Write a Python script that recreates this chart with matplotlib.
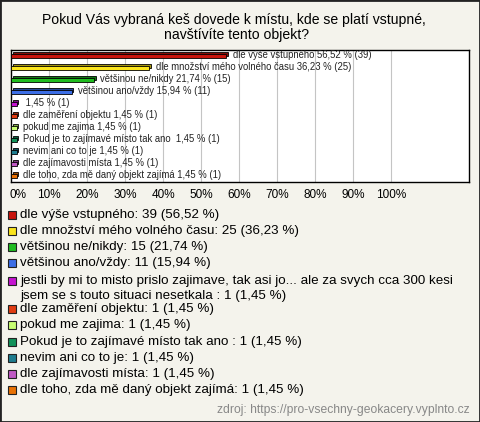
import numpy as np
import matplotlib.pyplot as plt
from matplotlib.patches import Rectangle
from matplotlib.colors import to_rgb

plt.rcParams['font.family'] = ['Liberation Sans', 'DejaVu Sans']

# answers, counts, percentages
bar_labels = ['dle výše vstupného', 'dle množství mého volného času', 'většinou ne/nikdy',
              'většinou ano/vždy', '', 'dle zaměření objektu', 'pokud me zajima',
              'Pokud je to zajímavé místo tak ano ', 'nevim ani co to je',
              'dle zajímavosti místa', 'dle toho, zda mě daný objekt zajímá']
legend_labels = ['dle výše vstupného', 'dle množství mého volného času', 'většinou ne/nikdy',
                 'většinou ano/vždy',
                 'jestli by mi to misto prislo zajimave, tak asi jo... ale za svych cca 300 kesi\njsem se s touto situaci nesetkala ',
                 'dle zaměření objektu', 'pokud me zajima', 'Pokud je to zajímavé místo tak ano ',
                 'nevim ani co to je', 'dle zajímavosti místa', 'dle toho, zda mě daný objekt zajímá']
counts = [39, 25, 15, 11, 1, 1, 1, 1, 1, 1, 1]
percents = [56.52, 36.23, 21.74, 15.94, 1.45, 1.45, 1.45, 1.45, 1.45, 1.45, 1.45]
colors = ['#c8140c', '#fae41c', '#20bc20', '#3c6ee6', '#c414d0', '#e03c12', '#c8ff72',
          '#12925a', '#1e7c8e', '#c05ac4', '#e87206']
ticks = [0, 10, 20, 30, 40, 50, 60, 70, 80, 90, 100]

W, H = 480, 422
bg = '#f4f3ec'
fig = plt.figure(figsize=(4.8, 4.22), dpi=100, facecolor=bg)
fig.patches.append(Rectangle((0, 0), 1, 1, transform=fig.transFigure, fill=False,
                             edgecolor='#222222', linewidth=2))

fig.text(234 / W, 1 - 20 / H, 'Pokud Vás vybraná keš dovede k místu, kde se platí vstupné,',
         ha='center', va='center', fontsize=10.1)
fig.text(237 / W, 1 - 35 / H, 'navštívíte tento objekt?', ha='center', va='center', fontsize=10.1)

# bar chart area
ax = fig.add_axes([11 / W, 1 - 182 / H, (469 - 11) / W, (182 - 50) / H])
ax.set_facecolor('white')
ax.set_xlim(0, 120.5)
ax.set_ylim(10.5, -0.5)
for t in ticks[1:]:
    ax.axvline(t, color='#c4c4c4', linewidth=0.8, zorder=0)
ax.set_xticks([])
ax.set_yticks([])
for s in ax.spines.values():
    s.set_linewidth(1.0)

# pseudo-3D bars: darker back face offset up and right
dx, dy = 0.5, 0.15
h = 0.38
y = np.arange(len(counts))
for i in range(len(counts)):
    c = np.array(to_rgb(colors[i]))
    dark = c * 0.65
    ax.barh(y[i] - dy, percents[i], left=dx, height=h, color=dark, edgecolor='black',
            linewidth=0.6, zorder=2)
    ax.barh(y[i], percents[i], height=h, color=colors[i], edgecolor='black',
            linewidth=0.6, zorder=3)
    txt = f'{bar_labels[i]} {percents[i]:.2f} % ({counts[i]})'.replace('.', ',')
    ax.text(percents[i] + dx + 1.3, y[i] - 0.05, txt, va='center', ha='left', fontsize=6.85,
            color='#222222', zorder=4)

# percent axis labels
for t in ticks:
    xp = (11 + t * 3.8) / W
    fig.text(xp + (7 / W if t == 0 else 0), 1 - 195 / H, f'{t}%', ha='center', va='center',
             fontsize=8.5)

# legend
ys = [215, 231, 247, 263, 281, 309, 325, 342, 358, 374, 390]
for i in range(len(counts)):
    yy = 1 - ys[i] / H
    fig.patches.append(Rectangle((8 / W, yy - 4 / H), 8 / W, 8 / H, transform=fig.transFigure,
                                 facecolor=colors[i], edgecolor='#222222', linewidth=0.8))
    txt = f'{legend_labels[i]}: {counts[i]} ({percents[i]:.2f} %)'
    txt = txt[:txt.rfind('(')] + txt[txt.rfind('('):].replace('.', ',')
    lines = txt.split('\n')
    fig.text(20 / W, yy, lines[0], ha='left', va='center', fontsize=9.6)
    if len(lines) > 1:
        fig.text(20 / W, yy - 15 / H, lines[1], ha='left', va='center', fontsize=9.6)

fig.text(470 / W, 1 - 410 / H, 'zdroj: https://pro-vsechny-geokacery.vyplnto.cz', ha='right',
         va='center', fontsize=8.7, color='#888888')

fig.savefig('out.png', dpi=100, facecolor=bg)
